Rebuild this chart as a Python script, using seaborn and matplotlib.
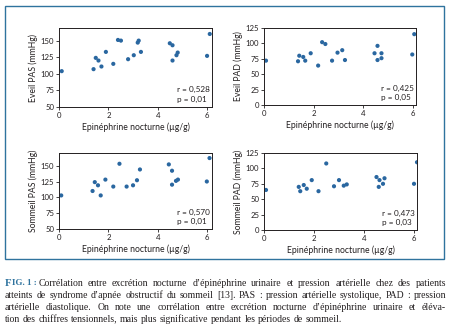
import matplotlib
matplotlib.use("Agg")
import matplotlib.pyplot as plt
from matplotlib.transforms import IdentityTransform
from matplotlib.patches import Rectangle
import seaborn as sns

# ---------------- data ----------------
x_eveil_pas = [0.11, 1.40, 1.49, 1.60, 1.72, 1.90, 2.20, 2.39, 2.51, 2.80, 3.03,
               3.19, 3.23, 3.32, 4.49, 4.60, 4.60, 4.76, 4.81, 6.00, 6.11]
y_eveil_pas = [104, 107, 124, 120, 111, 133, 115, 151, 150, 122, 128,
               147, 150, 133, 146, 143, 120, 128, 132, 127, 160]

x_eveil_pad = [0.08, 1.37, 1.42, 1.58, 1.66, 1.88, 2.18, 2.34, 2.47, 2.74,
               2.96, 3.15, 3.26, 4.45, 4.57, 4.57, 4.73, 4.73, 5.97, 6.05]
y_eveil_pad = [72, 71, 80, 78, 72, 84, 64, 102, 99, 72,
               85, 89, 73, 84, 96, 73, 84, 76, 82, 115]

x_sommeil_pas = [0.09, 1.36, 1.45, 1.58, 1.69, 1.88, 2.20, 2.45, 2.74, 3.00,
                 3.16, 3.28, 4.45, 4.58, 4.58, 4.74, 4.82, 5.99, 6.10]
y_sommeil_pas = [103, 110, 124, 119, 103, 128, 117, 153, 117, 119,
                 127, 144, 152, 142, 120, 126, 128, 125, 162]

x_sommeil_pad = [0.08, 1.39, 1.45, 1.59, 1.71, 1.91, 2.18, 2.49, 2.80, 3.00,
                 3.19, 3.31, 4.50, 4.62, 4.59, 4.76, 4.82, 6.00, 6.12]
y_sommeil_pad = [65, 70, 63, 73, 67, 81, 63, 108, 71, 81,
                 72, 74, 86, 81, 70, 75, 84, 75, 110]

y_labels = ["Eveil PAS (mmHg)", "Eveil PAD (mmHg)",
            "Sommeil PAS (mmHg)", "Sommeil PAD (mmHg)"]
x_label = "Epinéphrine nocturne (µg/g)"
stats_r = ["r = 0,528", "r = 0,425", "r = 0,570", "r = 0,473"]
stats_p = ["p = 0,01", "p = 0,05", "p = 0,01", "p = 0,03"]
x_ticks = [0, 2, 4, 6]
pas_ticks = [50, 75, 100, 125, 150]
pad_ticks = [0, 25, 50, 75, 100, 125]

caption_lines = [
    "Corrélation entre excrétion nocturne d’épinéphrine urinaire et pression artérielle chez des patients",
    "atteints de syndrome d’apnée obstructif du sommeil [13]. PAS : pression artérielle systolique, PAD : pression",
    "artérielle diastolique. On note une corrélation entre excrétion nocturne d’épinéphrine urinaire et éléva-",
    "tion des chiffres tensionnels, mais plus significative pendant les périodes de sommeil.",
]

# ---------------- style ----------------
sns.set_style("ticks")
plt.rcParams["font.family"] = ["Lato", "DejaVu Sans"]
DOT = "#2a67a0"
FRAME = "#2f739e"
TXT = "#231f20"

W, H = 451, 333
fig = plt.figure(figsize=(W / 100, H / 100), dpi=100)
fig.patch.set_facecolor("white")

# frame box
fig.patches.append(Rectangle((5 / W, 1 - 259 / H), (444 - 5) / W, (259 - 6) / H,
                             transform=fig.transFigure, fill=False,
                             edgecolor=FRAME, linewidth=1.0))

def px_axes(x0, y0, x1, y1):
    return fig.add_axes([x0 / W, 1 - y1 / H, (x1 - x0) / W, (y1 - y0) / H])

panels = [
    (px_axes(59, 28, 212, 107), x_eveil_pas, y_eveil_pas, pas_ticks, (50, 169), 6.2),
    (px_axes(264, 28, 416, 105), x_eveil_pad, y_eveil_pad, pad_ticks, (0, 125), 6.12),
    (px_axes(59, 153, 212, 229), x_sommeil_pas, y_sommeil_pas, pas_ticks, (50, 170), 6.2),
    (px_axes(264, 153, 417, 230), x_sommeil_pad, y_sommeil_pad, pad_ticks, (0, 125), 6.12),
]

for i, (ax, xs, ys, yt, ylim, xmax) in enumerate(panels):
    sns.scatterplot(x=xs, y=ys, ax=ax, color=DOT, s=9, linewidth=0, edgecolor="none")
    ax.set_xlim(0, xmax)
    ax.set_ylim(*ylim)
    ax.set_xticks(x_ticks)
    ax.set_yticks(yt)
    ax.tick_params(axis="both", length=2.2, width=0.6, pad=1.2,
                   labelsize=5.6, colors=TXT)
    for sp in ax.spines.values():
        sp.set_linewidth(0.7)
        sp.set_color(TXT)
    ax.set_xlabel(x_label, fontsize=6.2, color=TXT, labelpad=3)
    ax.set_ylabel(y_labels[i], fontsize=6.2, color=TXT, labelpad=2)
    ax.text(0.77, 0.22, stats_r[i], transform=ax.transAxes, fontsize=5.9,
            color=TXT, ha="left", va="center")
    ax.text(0.77, 0.10, stats_p[i], transform=ax.transAxes, fontsize=5.9,
            color=TXT, ha="left", va="center")

# ---------------- caption (justified) ----------------
fig.canvas.draw()
renderer = fig.canvas.get_renderer()
SERIF = ["Liberation Serif", "DejaVu Serif"]
ident = IdentityTransform()
LEFT, RIGHT = 5, 446
line_y = [283, 295, 307, 319]
fs = 10.0

def width_of(s, size, **kw):
    t = fig.text(0, 0, s, transform=ident, family=SERIF, fontsize=size, **kw)
    w = t.get_window_extent(renderer).width
    t.remove()
    return w

def prefix_parts(size):
    return [("F", size + 0.7), ("IG. 1 :", size - 0.6)]

def natural(line, size, with_prefix):
    w = width_of(line, size)
    if with_prefix:
        w += sum(width_of(s, sz, fontweight="bold") for s, sz in prefix_parts(size)) + 2
    return w

need = max(natural(caption_lines[k], fs, k == 0) for k in range(3))
fs *= (RIGHT - LEFT) / need * 0.97

for li, line in enumerate(caption_lines):
    words = line.split(" ")
    ypix = H - line_y[li]
    start = LEFT
    if li == 0:
        x = LEFT
        for s, sz in prefix_parts(fs):
            t = fig.text(x, ypix, s, transform=ident, family=SERIF, fontsize=sz,
                         fontweight="bold", color=FRAME, va="center")
            x += t.get_window_extent(renderer).width
        start = x + 2
    ww = [width_of(w, fs) for w in words]
    space = width_of("a a", fs) - 2 * width_of("a", fs)
    if li < 3:
        gap = (RIGHT - start - sum(ww)) / (len(words) - 1)
    else:
        gap = space
    x = start
    for w, wd in zip(words, ww):
        fig.text(x, ypix, w, transform=ident, family=SERIF, fontsize=fs,
                 color=TXT, va="center")
        x += wd + gap

fig.savefig("out.png", dpi=100, facecolor="white")
